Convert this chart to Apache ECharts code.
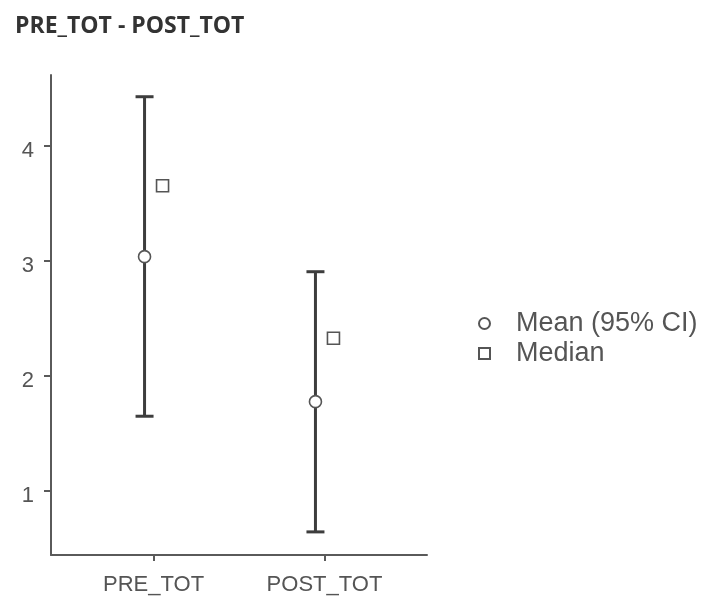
<!DOCTYPE html>
<html>
<head>
<meta charset="utf-8">
<script src="https://cdn.jsdelivr.net/npm/echarts@6/dist/echarts.min.js"></script>
<style>
  html, body { margin: 0; padding: 0; background: #fff; }
  #chart { width: 703px; height: 599px; }
</style>
</head>
<body>
<div id="chart"></div>
<script>
// Descriptive plot: mean with 95% CI and median per variable
const categories = ['PRE_TOT', 'POST_TOT'];
const meanValues = [3.035, 1.774];
const ciLower = [1.647, 0.641];
const ciUpper = [4.426, 2.904];
const medianValues = [3.652, 2.325];
const yTicks = [1, 2, 3, 4];

const xPos = categories.map((c, i) => i + 1);
const axisColor = '#5a5a5a';
const textColor = '#555';
const barColor = '#3d3d3d';

const chart = echarts.init(document.getElementById('chart'), null, { renderer: 'canvas' });

chart.setOption({
  animation: false,
  backgroundColor: '#fff',
  title: {
    text: 'PRE_TOT - POST_TOT',
    left: 10,
    top: 10,
    textStyle: { fontFamily: 'Open Sans', fontWeight: 'bold', fontSize: 23, color: '#333' }
  },
  grid: { left: 51, right: 276, top: 75, bottom: 44 },
  legend: {
    orient: 'vertical',
    left: 473,
    top: 305,
    itemWidth: 11,
    itemHeight: 11,
    itemGap: 3,
    data: ['Mean (95% CI)', 'Median'],
    textStyle: { fontFamily: 'Liberation Sans', fontSize: 27, color: textColor, lineHeight: 27, padding: [0, 0, 0, 21] }
  },
  xAxis: {
    type: 'value',
    min: 0.4,
    max: 2.6,
    splitLine: { show: false },
    axisLine: { show: true, lineStyle: { color: axisColor, width: 2 } },
    axisTick: { show: true, customValues: xPos, length: 6, lineStyle: { color: axisColor, width: 2 } },
    axisLabel: {
      customValues: xPos,
      formatter: v => categories[Math.round(v) - 1] || '',
      fontFamily: 'Liberation Sans', fontSize: 22, color: textColor, margin: 19
    }
  },
  yAxis: {
    type: 'value',
    min: 0.44,
    max: 4.615,
    splitLine: { show: false },
    axisLine: { show: true, lineStyle: { color: axisColor, width: 2 } },
    axisTick: { show: true, customValues: yTicks, length: 7, lineStyle: { color: axisColor, width: 2 } },
    axisLabel: {
      customValues: yTicks,
      fontFamily: 'Liberation Sans', fontSize: 22, color: textColor, margin: 17,
      verticalAlign: 'top', lineHeight: 10
    }
  },
  series: [
    {
      name: 'CI',
      type: 'custom',
      data: xPos.map((x, i) => [x, ciLower[i], ciUpper[i]]),
      renderItem: (params, api) => {
        const top = api.coord([api.value(0), api.value(2)]);
        const bot = api.coord([api.value(0), api.value(1)]);
        const x = top[0] - 9;
        const half = 9;
        const style = { stroke: barColor, lineWidth: 3 };
        return {
          type: 'group',
          children: [
            { type: 'line', shape: { x1: x, y1: top[1], x2: x, y2: bot[1] }, style },
            { type: 'line', shape: { x1: x - half, y1: top[1], x2: x + half, y2: top[1] }, style },
            { type: 'line', shape: { x1: x - half, y1: bot[1], x2: x + half, y2: bot[1] }, style }
          ]
        };
      },
      z: 2
    },
    {
      name: 'Mean (95% CI)',
      type: 'scatter',
      symbol: 'circle',
      symbolSize: 12,
      symbolOffset: [-9, 0],
      itemStyle: { color: '#fff', borderColor: '#555', borderWidth: 1.6, opacity: 1 },
      data: xPos.map((x, i) => [x, meanValues[i]]),
      z: 3
    },
    {
      name: 'Median',
      type: 'scatter',
      symbol: 'rect',
      symbolSize: 12,
      symbolOffset: [9, 0],
      itemStyle: { color: '#fff', borderColor: '#555', borderWidth: 1.6, opacity: 1 },
      data: xPos.map((x, i) => [x, medianValues[i]]),
      z: 3
    }
  ]
});
</script>
</body>
</html>
